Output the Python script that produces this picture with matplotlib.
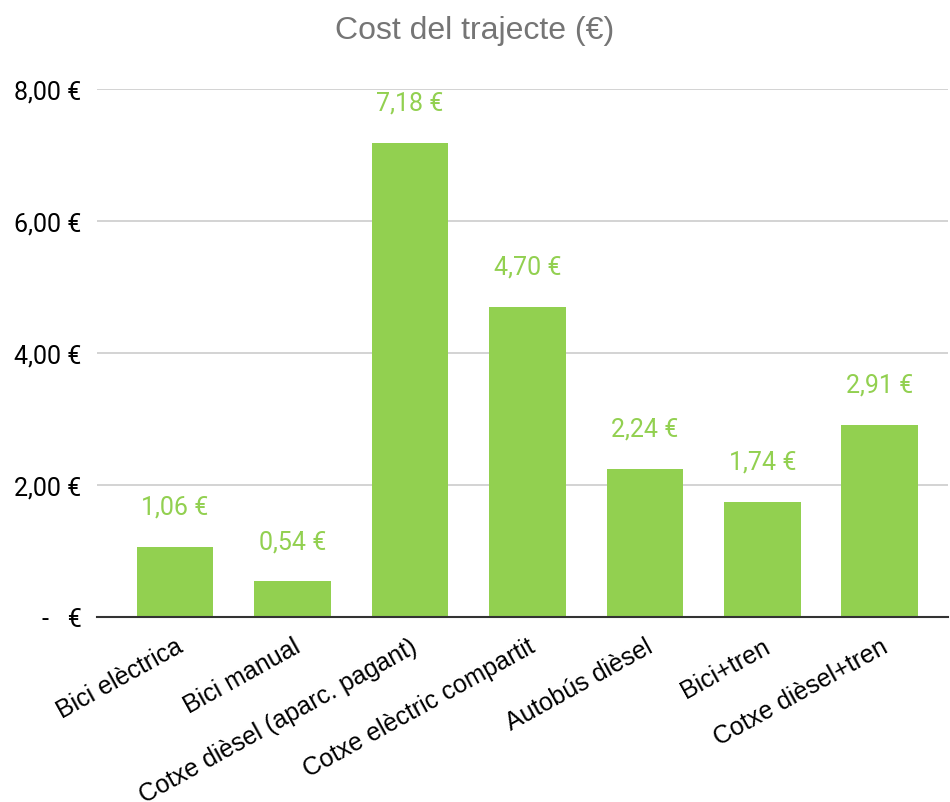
import matplotlib.pyplot as plt
from matplotlib.ticker import FuncFormatter
from matplotlib.transforms import ScaledTranslation

# Data
categories = ["Bici elèctrica", "Bici manual", "Cotxe dièsel (aparc. pagant)",
              "Cotxe elèctric compartit", "Autobús dièsel", "Bici+tren",
              "Cotxe dièsel+tren"]
costs = [1.06, 0.54, 7.18, 4.70, 2.24, 1.74, 2.91]
yticks = [0, 2, 4, 6, 8]

green = "#92d050"

def euro(v, pos=None):
    if v == 0:
        return "-   €"
    return f"{v:.2f}".replace(".", ",") + " €"

fig = plt.figure(figsize=(9.5, 8.03), dpi=100)
ax = fig.add_axes([97/950, 1 - 618/803, (948 - 97)/950, (618 - 90)/803])

x = list(range(len(categories)))
ax.bar(x, costs, width=0.655, color=green, zorder=3)

# Value labels above bars
for xi, v in zip(x, costs):
    ax.annotate(euro(v), (xi, v), xytext=(0, 29), textcoords="offset points",
                ha="center", va="center", color=green, fontsize=18,
                family="Roboto")

ax.set_xlim(-0.664, 6.579)
ax.set_ylim(0, 8)
ax.set_yticks(yticks)
ax.yaxis.set_major_formatter(FuncFormatter(euro))
ax.yaxis.grid(True, color="#cccccc", linewidth=1.2, zorder=0)
ax.set_axisbelow(True)

ax.set_xticks(x)
ax.set_xticklabels(categories, rotation=29, ha="right", rotation_mode="anchor",
                   family="Liberation Sans", fontsize=18)
shift = ScaledTranslation(11/100, 0, fig.dpi_scale_trans)
for lbl in ax.get_xticklabels():
    lbl.set_transform(lbl.get_transform() + shift)
ax.tick_params(axis="both", length=0)
ax.tick_params(axis="x", pad=12)
ax.tick_params(axis="y", pad=11)
for lbl in ax.get_yticklabels():
    lbl.set_family("Roboto")
    lbl.set_fontsize(18)

for s in ["top", "right", "left"]:
    ax.spines[s].set_visible(False)
ax.spines["bottom"].set_color("#333333")
ax.spines["bottom"].set_linewidth(1.5)
ax.spines["bottom"].set_zorder(4)

fig.text(0.5, 1 - 31/803, "Cost del trajecte (€)", ha="center", va="center",
         fontsize=23, color="#757575", family="Liberation Sans")

plt.savefig("out.png", dpi=100)
